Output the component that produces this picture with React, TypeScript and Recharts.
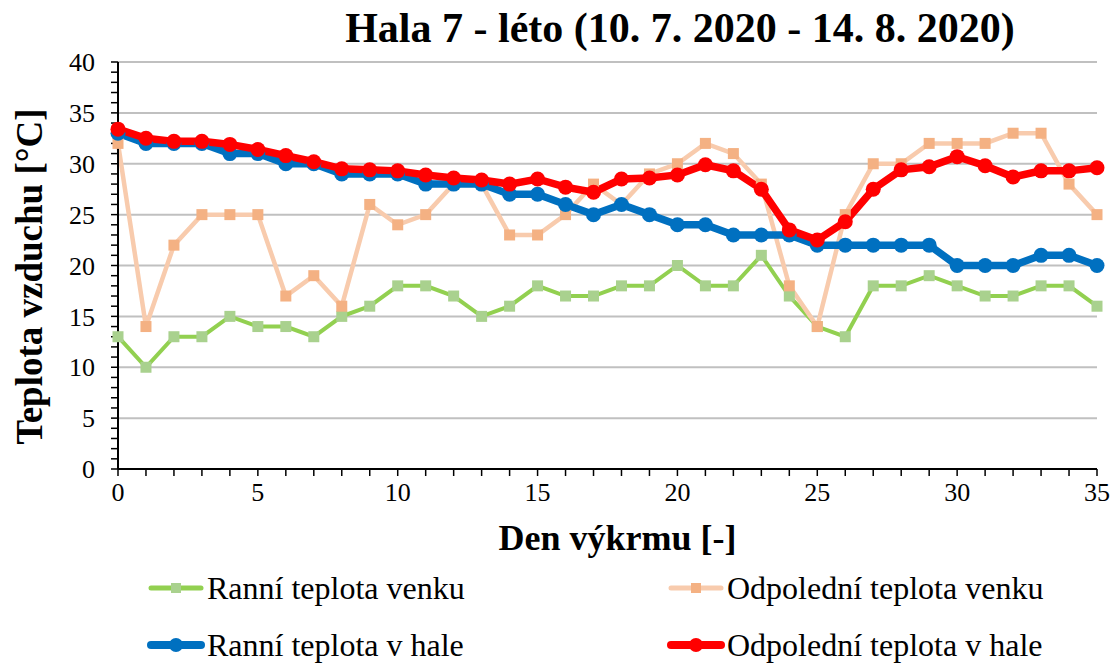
import React from 'react';
import { LineChart, Line, XAxis, YAxis, CartesianGrid } from 'recharts';

const days = [0, 1, 2, 3, 4, 5, 6, 7, 8, 9, 10, 11, 12, 13, 14, 15, 16, 17, 18, 19, 20, 21, 22, 23, 24, 25, 26, 27, 28, 29, 30, 31, 32, 33, 34, 35];
const ranniVenku = [13, 10, 13, 13, 15, 14, 14, 13, 15, 16, 18, 18, 17, 15, 16, 18, 17, 17, 18, 18, 20, 18, 18, 21, 17, 14, 13, 18, 18, 19, 18, 17, 17, 18, 18, 16];
const odpoledniVenku = [32, 14, 22, 25, 25, 25, 17, 19, 16, 26, 24, 25, 28, 28, 23, 23, 25, 28, 26, 29, 30, 32, 31, 28, 18, 14, 25, 30, 30, 32, 32, 32, 33, 33, 28, 25];
const ranniHala = [33, 32, 32, 32, 31, 31, 30, 30, 29, 29, 29, 28, 28, 28, 27, 27, 26, 25, 26, 25, 24, 24, 23, 23, 23, 22, 22, 22, 22, 22, 20, 20, 20, 21, 21, 20];
const odpoledniHala = [33.4, 32.5, 32.2, 32.2, 31.9, 31.4, 30.8, 30.2, 29.5, 29.4, 29.3, 28.9, 28.6, 28.4, 28, 28.5, 27.7, 27.2, 28.5, 28.6, 28.9, 29.9, 29.3, 27.5, 23.5, 22.5, 24.3, 27.5, 29.4, 29.7, 30.7, 29.8, 28.7, 29.3, 29.3, 29.6];

const xTicks = days;
const yTicks = [0, 1, 2, 3, 4, 5, 6, 7, 8, 9, 10, 11, 12, 13, 14, 15, 16, 17, 18, 19, 20, 21, 22, 23, 24, 25, 26, 27, 28, 29, 30, 31, 32, 33, 34, 35, 36, 37, 38, 39, 40];
const gridValues = [5, 10, 15, 20, 25, 30, 35, 40];

const data = days.map((d, i) => ({
  day: d,
  rv: ranniVenku[i],
  ov: odpoledniVenku[i],
  rh: ranniHala[i],
  oh: odpoledniHala[i],
}));

const FONT = '"Liberation Serif", "Times New Roman", serif';

const squareDot = (size: number, fill: string) => (props: any) => {
  const { cx, cy, index } = props;
  if (cx == null || cy == null) return <g key={index} />;
  return <rect key={index} x={cx - size / 2} y={cy - size / 2} width={size} height={size} fill={fill} />;
};

const fmt5 = (v: number) => (v % 5 === 0 ? String(v) : '');

// rotated y-axis title, nudged a bit below the plot's middle like the original
const YTitle = (props: any) => {
  const vb = props.viewBox || {};
  const x = (vb.x || 0) + 29;
  const y = (vb.y || 0) + (vb.height || 0) / 2 + 11;
  return (
    <text
      x={x}
      y={y}
      transform={`rotate(-90, ${x}, ${y})`}
      textAnchor="middle"
      dominantBaseline="central"
      fill="#000"
      fontSize={37}
      fontWeight="bold"
      fontFamily={FONT}
    >
      Teplota vzduchu [°C]
    </text>
  );
};

const legendItems = [
  { label: 'Ranní teplota venku', line: '#92d050', mark: '#a9d18e', w: 5, shape: 'square', x: 147, y: 588 },
  { label: 'Odpolední teplota venku', line: '#f8cbad', mark: '#f4b183', w: 5, shape: 'square', x: 667, y: 588 },
  { label: 'Ranní teplota v hale', line: '#0070c0', mark: '#0070c0', w: 8, shape: 'circle', x: 147, y: 645 },
  { label: 'Odpolední teplota v hale', line: '#ff0000', mark: '#ff0000', w: 8, shape: 'circle', x: 667, y: 645 },
];

export default function App() {
  return (
    <div style={{ position: 'absolute', left: 0, top: 0, width: 1116, height: 663, background: '#fff', fontFamily: FONT }}>
      <div
        style={{
          position: 'absolute',
          left: 0,
          width: 1360,
          top: 3,
          textAlign: 'center',
          fontSize: 42,
          fontWeight: 'bold',
          lineHeight: '50px',
          whiteSpace: 'nowrap',
        }}
      >
        Hala 7 - léto (10. 7. 2020 - 14. 8. 2020)
      </div>
      <LineChart width={1116} height={663} data={data} margin={{ top: 62, right: 19, left: 0, bottom: 113 }}>
        <CartesianGrid horizontal vertical={false} horizontalValues={gridValues} stroke="#c0c0c0" strokeWidth={2} />
        <XAxis
          dataKey="day"
          type="number"
          domain={[0, 35]}
          ticks={xTicks}
          interval={0}
          tickFormatter={fmt5}
          tickSize={7}
          tickMargin={7}
          height={81}
          axisLine={{ stroke: '#000', strokeWidth: 2 }}
          tickLine={{ stroke: '#000', strokeWidth: 1.5 }}
          tick={{ fill: '#000', fontSize: 26, fontFamily: FONT }}
          label={{
            value: 'Den výkrmu [-]',
            position: 'insideBottom',
            offset: 0,
            dx: 10,
            style: { fill: '#000', fontSize: 36, fontWeight: 'bold', fontFamily: FONT },
          }}
        />
        <YAxis
          type="number"
          domain={[0, 40]}
          ticks={yTicks}
          interval={0}
          tickFormatter={fmt5}
          width={118}
          tickSize={7}
          tickMargin={16}
          axisLine={{ stroke: '#000', strokeWidth: 2 }}
          tickLine={{ stroke: '#000', strokeWidth: 1.5 }}
          tick={{ fill: '#000', fontSize: 26, fontFamily: FONT }}
          label={{ value: 'Teplota vzduchu [°C]', content: YTitle }}
        />
        <Line
          type="linear"
          dataKey="rv"
          stroke="#92d050"
          strokeWidth={4}
          dot={squareDot(11, '#a9d18e')}
          activeDot={false}
          isAnimationActive={false}
        />
        <Line
          type="linear"
          dataKey="ov"
          stroke="#f8cbad"
          strokeWidth={4.5}
          dot={squareDot(11, '#f4b183')}
          activeDot={false}
          isAnimationActive={false}
        />
        <Line
          type="linear"
          dataKey="rh"
          stroke="#0070c0"
          strokeWidth={7.5}
          dot={{ r: 7.5, fill: '#0070c0', stroke: 'none' }}
          activeDot={false}
          isAnimationActive={false}
        />
        <Line
          type="linear"
          dataKey="oh"
          stroke="#ff0000"
          strokeWidth={7.5}
          dot={{ r: 7.5, fill: '#ff0000', stroke: 'none' }}
          activeDot={false}
          isAnimationActive={false}
        />
      </LineChart>
      {legendItems.map((it) => (
        <div
          key={it.label}
          style={{ position: 'absolute', left: it.x, top: it.y - 20, height: 40, display: 'flex', alignItems: 'center' }}
        >
          <svg width={58} height={20} style={{ display: 'block' }}>
            <line x1={4} y1={10} x2={54} y2={10} stroke={it.line} strokeWidth={it.w} strokeLinecap="round" />
            {it.shape === 'square' ? (
              <rect x={24} y={5} width={10} height={10} fill={it.mark} />
            ) : (
              <circle cx={29} cy={10} r={7} fill={it.mark} />
            )}
          </svg>
          <span style={{ fontSize: 32, color: '#000', marginLeft: 2, whiteSpace: 'nowrap' }}>{it.label}</span>
        </div>
      ))}
    </div>
  );
}
